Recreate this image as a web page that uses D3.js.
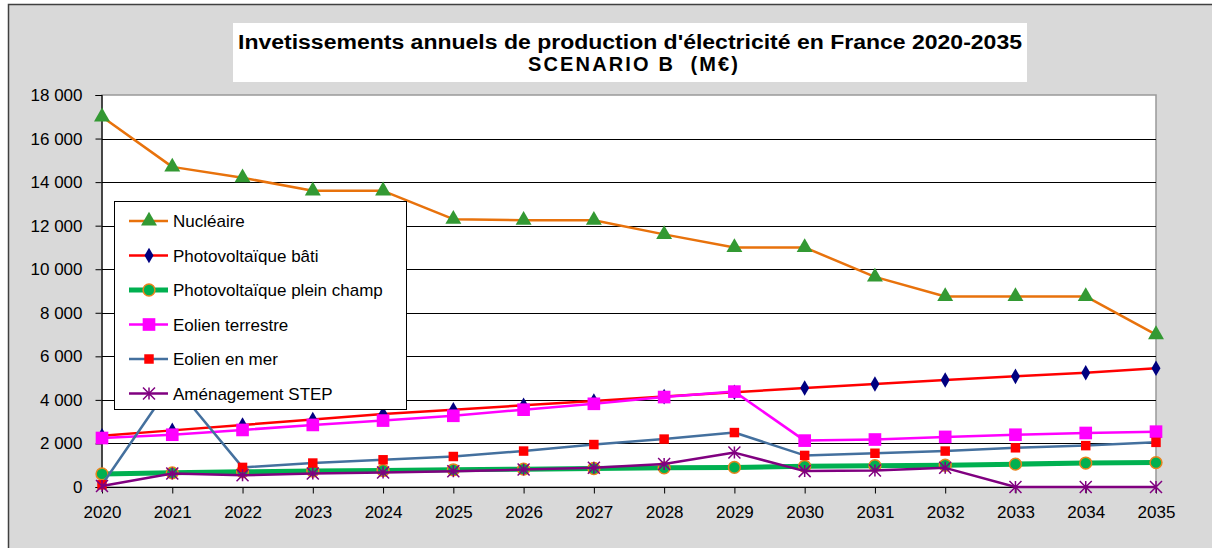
<!DOCTYPE html>
<html>
<head>
<meta charset="utf-8">
<script src="https://cdn.jsdelivr.net/npm/d3@7"></script>
<style>
  body { margin: 0; background: #fff; }
  svg { display: block; font-family: "Liberation Sans", Arial, sans-serif; }
</style>
</head>
<body>
<div id="viz"></div>
<script>
// Values (M€)
const years = [2020, 2021, 2022, 2023, 2024, 2025, 2026, 2027, 2028, 2029, 2030, 2031, 2032, 2033, 2034, 2035];
const nucleaire = [17000, 14700, 14200, 13600, 13600, 12300, 12250, 12250, 11600, 11000, 11000, 9650, 8750, 8750, 8750, 7000];
const pvBati = [2350, 2600, 2850, 3100, 3350, 3550, 3750, 3950, 4150, 4350, 4550, 4730, 4910, 5080, 5250, 5450];
const pvChamp = [600, 650, 700, 730, 760, 790, 820, 850, 880, 900, 950, 980, 1000, 1050, 1100, 1120];
const eolienTerrestre = [2250, 2400, 2620, 2850, 3050, 3270, 3550, 3820, 4130, 4380, 2130, 2180, 2300, 2400, 2480, 2540];
const eolienMer = [100, 4800, 900, 1100, 1250, 1400, 1650, 1950, 2200, 2500, 1450, 1550, 1650, 1800, 1900, 2050];
const step = [50, 620, 540, 620, 670, 720, 800, 880, 1060, 1580, 730, 760, 880, 0, 0, 0];
const yTicks = [0, 2000, 4000, 6000, 8000, 10000, 12000, 14000, 16000, 18000];

const series = [
    {name: "Nucléaire", values: nucleaire, color: "#e8720c", width: 2.5, marker: "triangle", fill: "#339933", stroke: "none", size: 110},
    {name: "Photovoltaïque bâti", values: pvBati, color: "#ff0000", width: 2.5, marker: "diamond", fill: "#000080", stroke: "none", size: 70},
    {name: "Photovoltaïque plein champ", values: pvChamp, color: "#00b050", width: 5, marker: "circle", fill: "#00b050", stroke: "#e8841c", size: 110},
    {name: "Eolien terrestre", values: eolienTerrestre, color: "#ff00ff", width: 2.5, marker: "square", fill: "#ff00ff", stroke: "none", size: 160},
    {name: "Eolien en mer", values: eolienMer, color: "#44709e", width: 2.5, marker: "square", fill: "#ff0000", stroke: "none", size: 90},
    {name: "Aménagement STEP", values: step, color: "#800080", width: 2.5, marker: "star", fill: "none", stroke: "#800080", size: 0}
];

const W = 1212, H = 548;
const svg = d3.select("#viz").append("svg")
    .attr("width", W)
    .attr("height", H);

// chart area
svg.append("rect")
    .attr("x", 8.5).attr("y", 4.5)
    .attr("width", W).attr("height", H)
    .attr("fill", "#d9d9d9")
    .attr("stroke", "#404040")
    .attr("stroke-width", 1.5);

const x = d3.scalePoint()
    .domain(years)
    .range([102, 1156]);

const y = d3.scaleLinear()
    .domain([0, 18000])
    .range([487, 95]);

// plot area
svg.append("rect")
    .attr("x", 102).attr("y", 95)
    .attr("width", 1156 - 102).attr("height", 487 - 95)
    .attr("fill", "#fff")
    .attr("stroke", "#999")
    .attr("stroke-width", 1.5);

svg.append("g")
    .selectAll("line")
    .data(yTicks.filter(d => d > 0 && d < 18000))
    .enter()
    .append("line")
    .attr("x1", 102).attr("x2", 1156)
    .attr("y1", d => Math.round(y(d)) + 0.5)
    .attr("y2", d => Math.round(y(d)) + 0.5)
    .attr("stroke", "#000")
    .attr("stroke-width", 1);

// axes
const yAxis = d3.axisLeft(y)
    .tickValues(yTicks)
    .tickSize(6)
    .tickPadding(13)
    .tickFormat(d => d3.format(",")(d).replace(",", " "));

const gy = svg.append("g")
    .attr("transform", "translate(101.5, 0)")
    .call(yAxis);

const xAxis = d3.axisBottom(x)
    .tickSize(6)
    .tickPadding(12)
    .tickFormat(d => d);

const gx = svg.append("g")
    .attr("transform", "translate(0, 487.5)")
    .call(xAxis);

[gy, gx].forEach(g => {
    g.select(".domain").attr("stroke", "#000").attr("stroke-width", 1.2);
    g.selectAll(".tick line").attr("stroke", "#000");
    g.selectAll(".tick text")
        .attr("fill", "#000")
        .style("font-size", "17px")
        .style("font-family", "'Liberation Sans', Arial, sans-serif");
});
gx.select(".domain").attr("d", "M102,0H1156");

// markers
const starPath = s => `M0,${-s}V${s}M${-s},${-s}L${s},${s}M${-s},${s}L${s},${-s}`;
function marker(g, s) {
    if (s.marker === "star") {
        g.append("path")
            .attr("d", starPath(6))
            .attr("fill", "none")
            .attr("stroke", s.stroke)
            .attr("stroke-width", 1.5);
    } else {
        const type = {triangle: d3.symbolTriangle, diamond: d3.symbolDiamond, circle: d3.symbolCircle, square: d3.symbolSquare}[s.marker];
        g.append("path")
            .attr("d", d3.symbol(type, s.size)())
            .attr("fill", s.fill)
            .attr("stroke", s.stroke)
            .attr("stroke-width", s.stroke === "none" ? 0 : 1.5);
    }
}

const line = d3.line()
    .x((d, i) => x(years[i]))
    .y(d => y(d));

series.forEach(s => {
    const g = svg.append("g");
    g.append("path")
        .attr("d", line(s.values))
        .attr("fill", "none")
        .attr("stroke", s.color)
        .attr("stroke-width", s.width)
        .attr("stroke-linejoin", "round");
    s.values.forEach((v, i) => {
        const m = g.append("g").attr("transform", `translate(${x(years[i])},${y(v)})`);
        marker(m, s);
    });
});

// title
const title = svg.append("g");
title.append("rect")
    .attr("x", 233).attr("y", 23)
    .attr("width", 1027 - 233).attr("height", 82 - 23)
    .attr("fill", "#fff");
title.append("text")
    .attr("x", 630).attr("y", 49)
    .attr("text-anchor", "middle")
    .style("font-size", "20px")
    .style("font-weight", "bold")
    .attr("textLength", 784)
    .attr("lengthAdjust", "spacingAndGlyphs")
    .text("Invetissements annuels de production d'électricité en France 2020-2035");
title.append("text")
    .attr("x", 633).attr("y", 71)
    .attr("text-anchor", "middle")
    .style("font-size", "20px")
    .style("font-weight", "bold")
    .attr("xml:space", "preserve")
    .attr("textLength", 210)
    .attr("lengthAdjust", "spacing")
    .text("SCENARIO B  (M€)");

// legend
const legend = svg.append("g");
legend.append("rect")
    .attr("x", 114.5).attr("y", 201.5)
    .attr("width", 406 - 114).attr("height", 409 - 201)
    .attr("fill", "#fff")
    .attr("stroke", "#000")
    .attr("stroke-width", 1);

series.forEach((s, i) => {
    const cy = 221 + i * 34.5;
    const row = legend.append("g");
    row.append("line")
        .attr("x1", 129).attr("x2", 168)
        .attr("y1", cy).attr("y2", cy)
        .attr("stroke", s.color)
        .attr("stroke-width", s.width);
    marker(row.append("g").attr("transform", `translate(149,${cy})`), s);
    row.append("text")
        .attr("x", 173).attr("y", cy + 6)
        .style("font-size", "17px")
        .attr("fill", "#000")
        .text(s.name);
});
</script>
</body>
</html>
